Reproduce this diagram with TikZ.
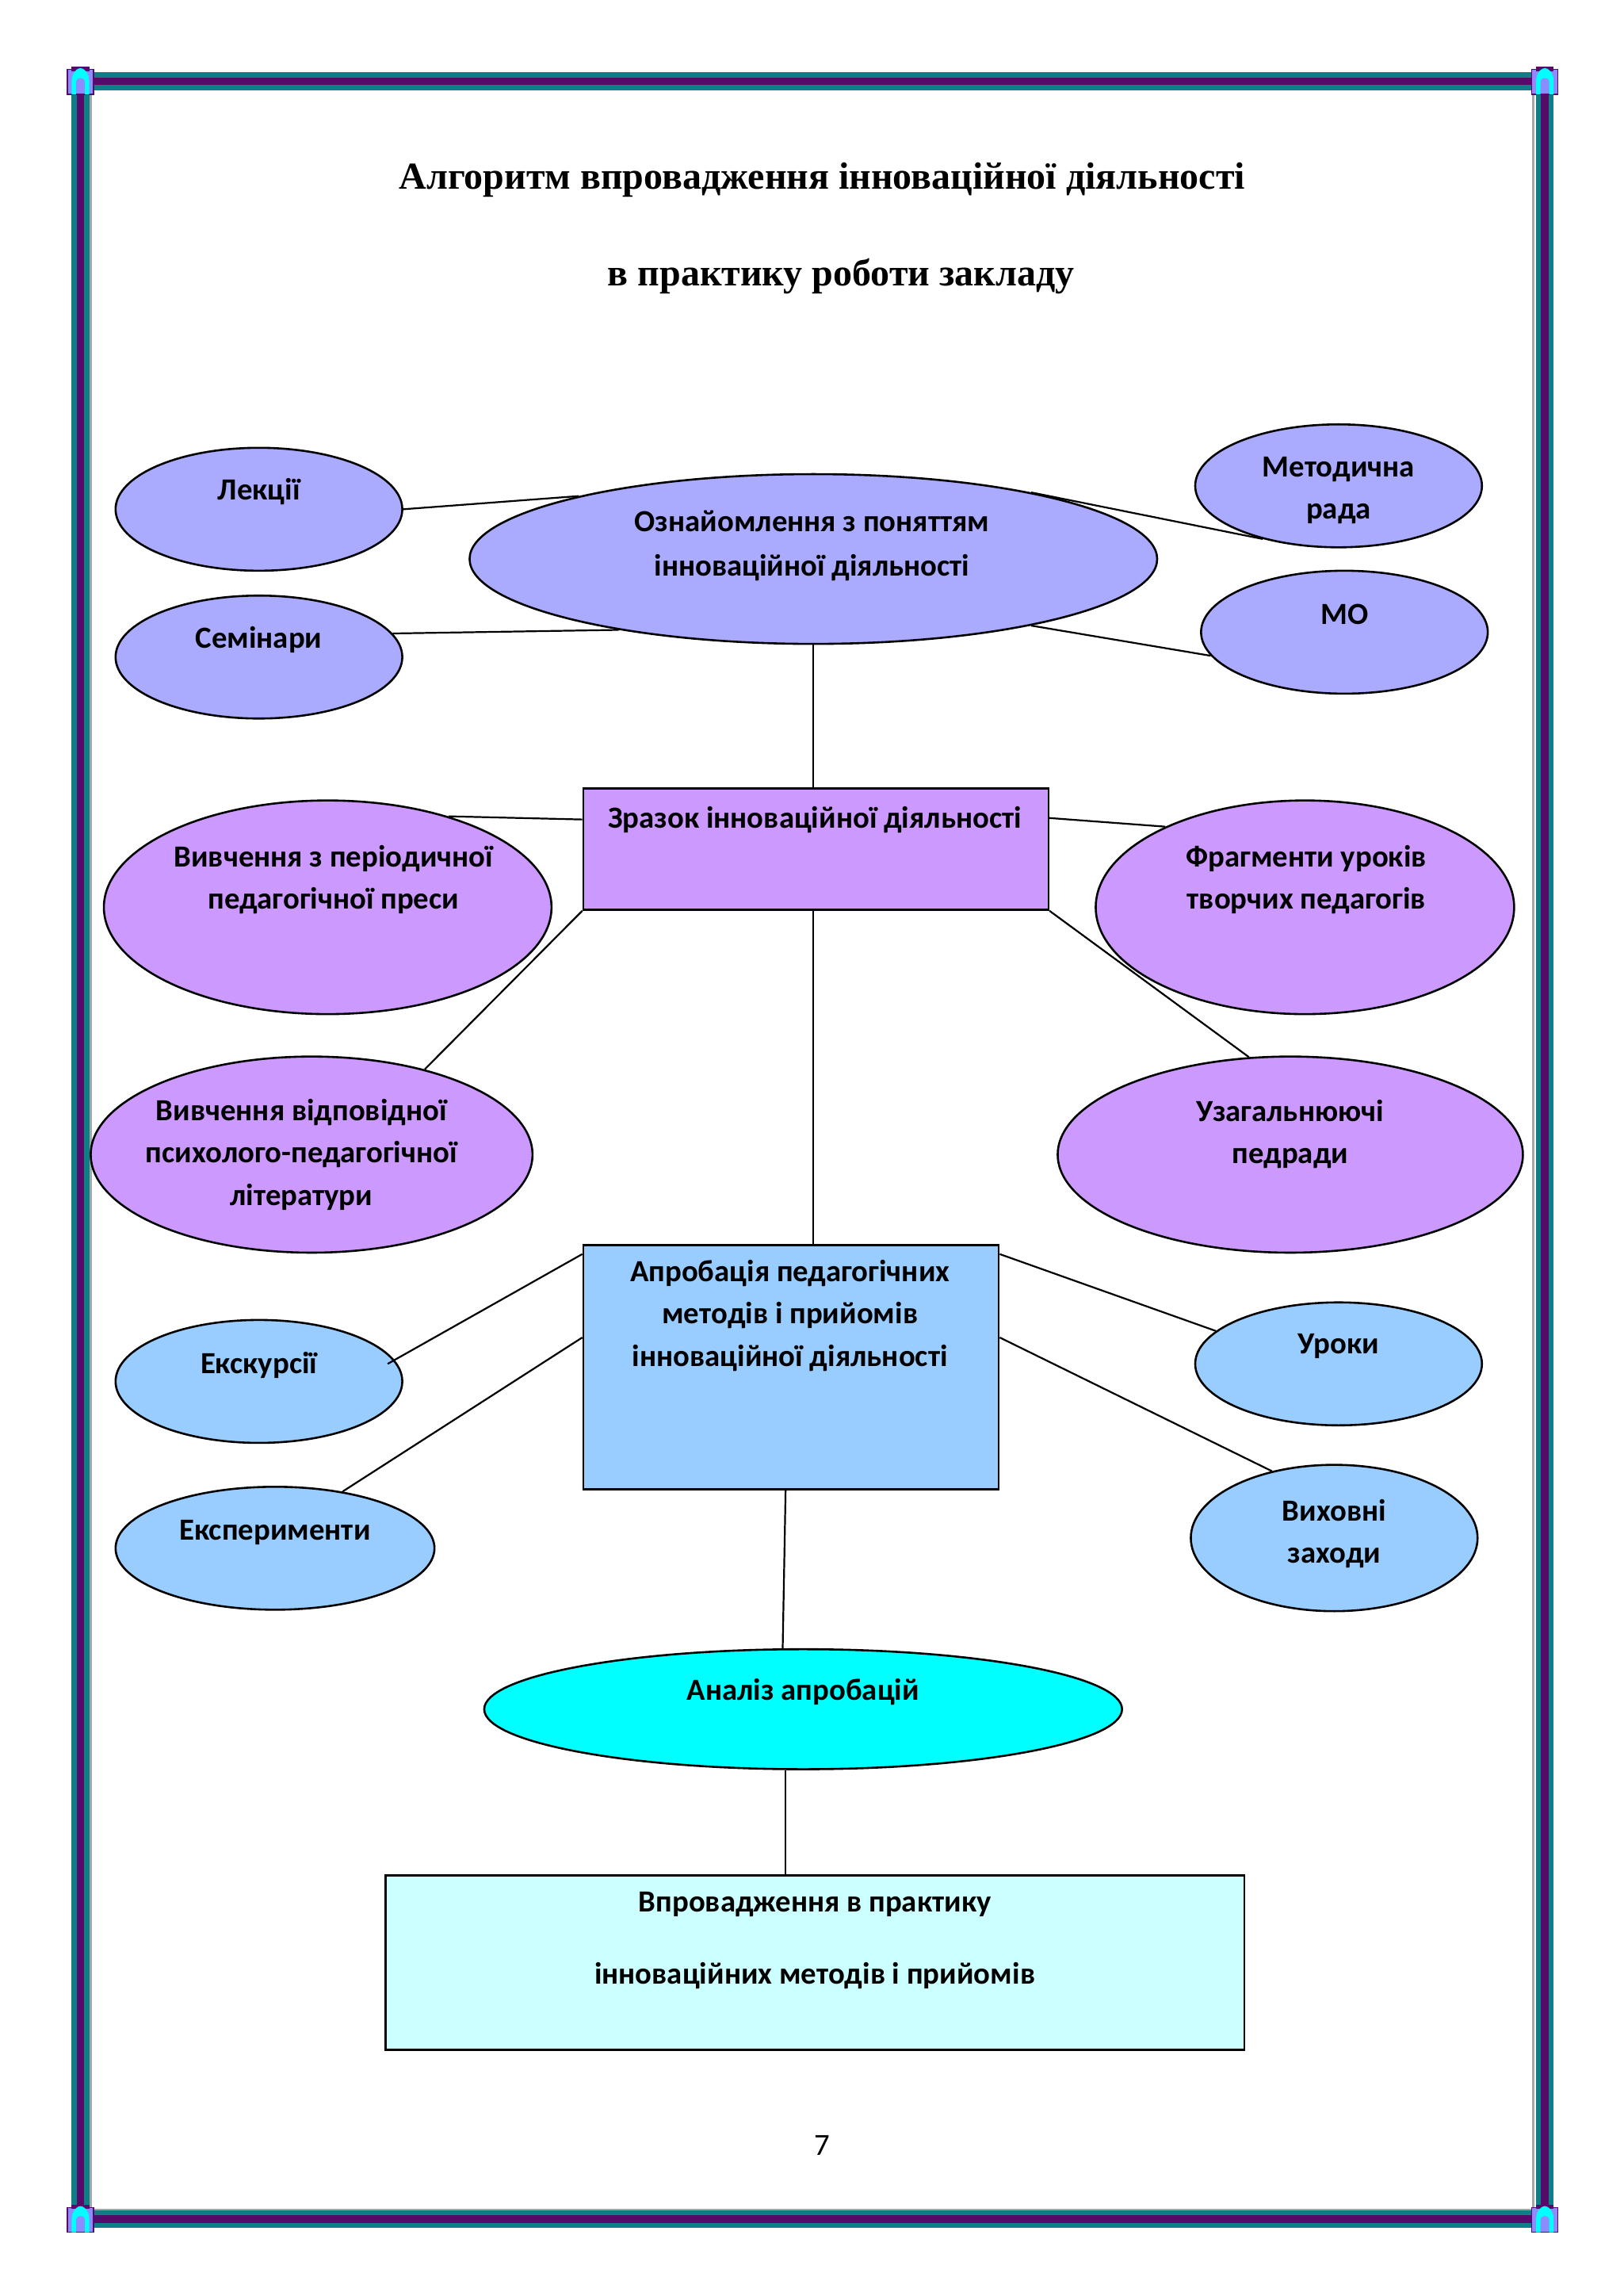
\documentclass[tikz,border=0pt]{standalone}
\usepackage{fontspec}
\setmainfont{Carlito}
\newfontfamily\ttl{Liberation Serif}
\usetikzlibrary{shapes.geometric}
\definecolor{peri}{HTML}{AAAAFF}
\definecolor{lil}{HTML}{CC99FF}
\definecolor{lblue}{HTML}{99CCFF}
\definecolor{cyn}{HTML}{00FFFF}
\definecolor{lcyn}{HTML}{CCFFFF}
\definecolor{teal2}{HTML}{0E7F86}
\definecolor{purp}{HTML}{560B6A}
\begin{document}
\begin{tikzpicture}[x=0.5pt,y=-0.5pt,
 el/.style={ellipse,draw,line width=0.7pt,inner sep=0},
 bx/.style={rectangle,draw,line width=0.7pt,inner sep=0,anchor=north west},
 tx/.style={font=\fontsize{10.5}{10.5}\selectfont\bfseries,align=center,inner sep=0},
 ln/.style={line width=0.6pt},
 band/.style={line width=6pt,draw=teal2},
 bandin/.style={line width=2.6pt,draw=purp}]
\useasboundingbox (0,0) rectangle (1110,1569);
% frame
\draw[gray!70,line width=0.8pt] (62,61) rectangle (1048,1510);
\draw[band] (55,55.5) rectangle (1056,1516.5);
\draw[bandin] (55,55.5) rectangle (1056,1516.5);
\foreach \a/\b in {55/55.5,1056/55.5,55/1516.5,1056/1516.5}{
 \begin{scope}[shift={(\a,\b)}]
  \fill[blue!45!white,draw=purp,line width=0.4pt] (-9,-8) rectangle (9,9);
  \fill[purp] (-6,-10) rectangle (6,-7);
  \fill[cyn] (-6,9) -- (-6,0) .. controls (-6,-6) and (-2,-9) .. (0,-9) .. controls (2,-9) and (6,-6) .. (6,0) -- (6,9) -- (3,9) -- (3,0) .. controls (3,-3) and (-3,-3) .. (-3,0) -- (-3,9) -- cycle;
 \end{scope}}
% title
\node[font=\ttl\fontsize{13}{13}\selectfont\bfseries,inner sep=0] (t1) at (562,123) {Алгоритм впровадження інноваційної діяльності};
\node[font=\ttl\fontsize{13}{13}\selectfont\bfseries,inner sep=0] (t2) at (575,189) {в практику роботи закладу};
% top level
\node[el,fill=peri,minimum width=235pt,minimum height=58pt] (ozn) at (556,382) {};
\node[tx] (ozntx) at (555,373) {Ознайомлення з поняттям\\[4.5pt]інноваційної діяльності};
\node[el,fill=peri,minimum width=98pt,minimum height=42pt] (lek) at (177,348) {};
\node[tx] (lektx) at (177,336) {Лекції};
\node[el,fill=peri,minimum width=98pt,minimum height=42pt] (sem) at (177,449) {};
\node[tx] (semtx) at (177,437) {Семінари};
\node[el,fill=peri,minimum width=98pt,minimum height=42pt] (met) at (915,332) {};
\node[tx] (mettx) at (915,335) {Методична\\[4pt]рада};
\node[el,fill=peri,minimum width=98pt,minimum height=42pt] (mo) at (919,432) {};
\node[tx] (motx) at (919,420) {МО};
\draw[ln] (lek.east) -- (ozn.165);
\draw[ln] (sem.10) -- (ozn.200);
\draw[ln] (ozn.17) -- (met.215);
\draw[ln] (ozn.-17) -- (mo.190);
% second level
\node[bx,fill=lil,minimum width=159pt,minimum height=41.5pt] (zr) at (398,538) {};
\node[tx] (zrtx) at (557,560) {Зразок інноваційної діяльності};
\draw[ln] (ozn.south) -- (zr.north -| ozn.south);
\node[el,fill=lil,minimum width=153pt,minimum height=73pt] (vp) at (224,620) {};
\node[tx] (vptx) at (228,601) {Вивчення з періодичної\\[4pt]педагогічної преси};
\node[el,fill=lil,minimum width=143pt,minimum height=73pt] (fr) at (892,620) {};
\node[tx] (frtx) at (893,601) {Фрагменти уроків\\[4pt]творчих педагогів};
\node[el,fill=lil,minimum width=151pt,minimum height=67pt] (vl) at (213,789) {};
\node[tx] (vltx) at (206,789) {Вивчення відповідної\\[4pt]психолого-педагогічної\\[4pt]літератури};
\node[el,fill=lil,minimum width=159pt,minimum height=67pt] (uz) at (882,789) {};
\node[tx] (uztx) at (882,775) {Узагальнюючі\\[4pt]педради};
\draw[ln] (vp.37) -- (zr.north west |- 0,560);
\draw[ln] (zr.south west) -- (vl.37);
\draw[ln] (zr.north east |- 0,559) -- (fr.150);
\draw[ln] (zr.south east) -- (uz.113);
% third level
\node[bx,fill=lblue,minimum width=142pt,minimum height=83.5pt] (ap) at (398,850) {};
\node[tx] (aptx) at (540,899) {Апробація педагогічних\\[4pt]методів і прийомів\\[4pt]інноваційної діяльності};
\draw[ln] (zr.south -| ozn.south) -- (ap.north -| ozn.south);
\node[el,fill=lblue,minimum width=98pt,minimum height=42pt] (ek) at (177,944) {};
\node[tx] (ektx) at (177,933) {Екскурсії};
\node[el,fill=lblue,minimum width=109pt,minimum height=42pt] (exp) at (188,1058) {};
\node[tx] (exptx) at (188,1047) {Експерименти};
\node[el,fill=lblue,minimum width=98pt,minimum height=42pt] (ur) at (915,932) {};
\node[tx] (urtx) at (915,920) {Уроки};
\node[el,fill=lblue,minimum width=98pt,minimum height=50pt] (vz) at (912,1051) {};
\node[tx] (vztx) at (912,1048) {Виховні\\[4pt]заходи};
\draw[ln] (ap.north west |- 0,857) -- (265,932);
\draw[ln] (ap.north west |- 0,914) -- (exp.40);
\draw[ln] (ap.north east |- 0,857) -- (ur.165);
\draw[ln] (ap.north east |- 0,914) -- (vz.133);
% analysis
\node[el,fill=cyn,minimum width=218pt,minimum height=41pt] (an) at (549,1168) {};
\node[tx] (antx) at (549,1156) {Аналіз апробацій};
\draw[ln] (ap.south -| 537,0) -- (535,1127);
\node[bx,fill=lcyn,minimum width=293.5pt,minimum height=59.5pt] (vpr) at (263,1281) {};
\node[tx] (vprtx) at (557,1326) {Впровадження в практику\\[14pt]інноваційних методів і прийомів};
\draw[ln] (an.south -| 537,0) -- (vpr.north -| 537,0);
\node[font=\fontsize{10.5}{10.5}\selectfont,inner sep=0] (pg) at (562,1466) {7};
\end{tikzpicture}
\end{document}
